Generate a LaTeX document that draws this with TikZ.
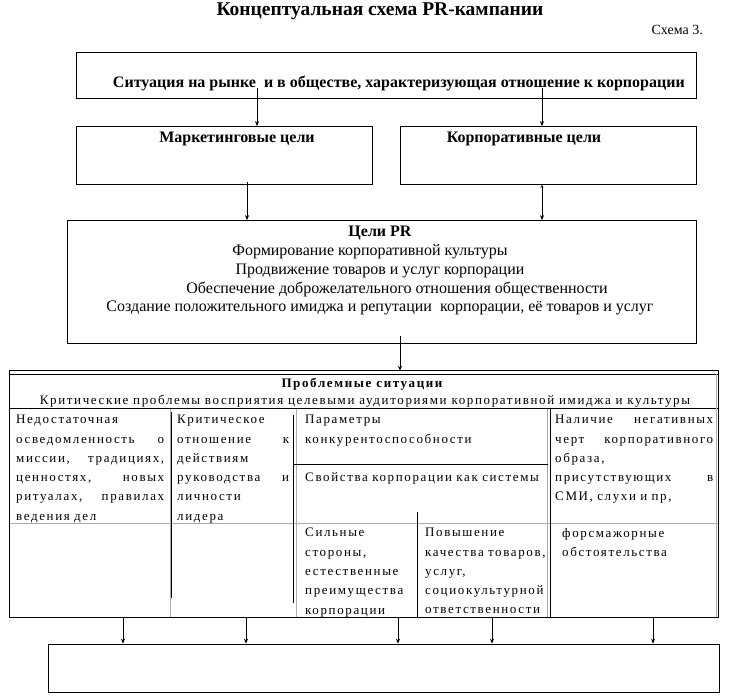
\documentclass[tikz,border=0pt]{standalone}
\usepackage{fontspec}
\setmainfont{Liberation Serif}
\newfontfamily\tabfont[LetterSpace=12.5]{Liberation Serif}
\usetikzlibrary{arrows.meta,positioning,calc}

\tikzset{
  box/.style={draw, line width=0.8pt, inner sep=0pt},
  arr/.style={-{Stealth[length=5pt,width=4pt]}, line width=0.6pt},
  boxtitle/.style={font=\bfseries\fontsize{16}{18}\selectfont, inner sep=0pt},
  goalline/.style={font=\fontsize{16}{18}\selectfont, inner sep=0pt},
  cell/.style={font=\tabfont\fontsize{13}{19.3}\selectfont, inner sep=0pt,
    align=left, anchor=north west},
  gridline/.style={gray!65, line width=0.6pt},
  darkline/.style={black, line width=0.9pt},
}

\begin{document}
\begin{tikzpicture}[x=1pt,y=-1pt]
\useasboundingbox (0,0) rectangle (735,697);
% heading
\node[font=\bfseries\fontsize{19.5}{22}\selectfont, inner sep=0pt] (title) at (380,11) {Концептуальная схема PR-кампании};
\node[font=\fontsize{14}{16}\selectfont, inner sep=0pt, anchor=east] (schema) at (703,30) {Схема 3.};

% situation box
\node[box, minimum width=620, minimum height=46] (sit) at (386,75.5) {};
\node[boxtitle, anchor=east] (sittext) at (685,83) {Ситуация на рынке\ \ и в обществе, характеризующая отношение к корпорации};

% goal boxes
\node[box, minimum width=296, minimum height=58] (mark) at (224,155.5) {};
\node[boxtitle] (marktext) at (237,139) {Маркетинговые цели};
\node[box, minimum width=296, minimum height=58] (corp) at (548,155.5) {};
\node[boxtitle] (corptext) at (524,139) {Корпоративные цели};

% PR goals
\node[box, minimum width=629, minimum height=123] (pr) at (381.5,282) {};
\node[boxtitle] (prhead) at (380,233) {Цели PR};
\node[goalline] (pr1) at (370,252) {Формирование корпоративной культуры};
\node[goalline] (pr2) at (380,271) {Продвижение товаров и услуг корпорации};
\node[goalline] (pr3) at (397,289) {Обеспечение доброжелательного отношения общественности};
\node[goalline] (pr4) at (380,308) {Создание положительного имиджа и репутации\ \ корпорации, её товаров и услуг};

\draw[arr] ($(sit.south -| 257,0)+(0,-11)$) -- (mark.north -| 257,0);
\draw[arr] ($(sit.south -| 542,0)+(0,-11)$) -- (corp.north -| 542,0);
\draw[arr] ($(mark.south -| 247,0)+(0,-3)$) -- (pr.north -| 247,0);
\draw[{Stealth[length=3pt,width=3pt]}-{Stealth[length=5pt,width=4pt]}, line width=0.6pt]
  (corp.south -| 542,0) -- (pr.north -| 542,0);

% problem table
\node[inner sep=0pt, minimum width=709, minimum height=246] (tab) at (364,494) {};
\draw[gridline] (170,408) -- (170,617) (296,408) -- (296,617) (547,408) -- (547,617)
  (10,523) -- (718,523);
\draw[darkline] (171,412) -- (171,598) (293,415) -- (293,603) (550,408) -- (550,617)
  (293,464) -- (548,464) (417,512) -- (417,617) (10,408) -- (718,408);
\draw[darkline] (10,374) -- (718,374);
\draw[darkline] (tab.north west) rectangle (tab.south east);
\draw[gridline] (716,374) -- (716,617);

\node[cell, font=\tabfont\bfseries\fontsize{13}{15}\selectfont, anchor=center] (probhead) at (362,384) {Проблемные ситуации};
\node[cell, anchor=center] (probsub) at (365,401) {Критические проблемы восприятия целевыми аудиториями корпоративной имиджа и культуры};

\node[cell, text width=148] (c1) at (16,415) {Недостаточная\\ осведомленность\hfill о\\ миссии,\hfill традициях,\\ ценностях,\hfill новых\\ ритуалах,\hfill правилах\\ ведения дел};
\node[cell, text width=112] (c2) at (177,415) {Критическое\\ отношение\hfill к\\ действиям\\ руководства\hfill и\\ личности\\ лидера};
\node[cell, text width=238] (c3a) at (305,415) {Параметры\\ конкурентоспособности};
\node[cell, text width=238] (c3b) at (305,472) {Свойства корпорации как системы};
\node[cell, text width=158] (c4) at (555,415) {Наличие\hfill негативных\\ черт\hfill корпоративного\\ образа,\\ присутствующих\hfill в\\ СМИ, слухи и пр,};
\node[cell, text width=110] (c3c) at (305,528) {Сильные\\ стороны,\\ естественные\\ преимущества\\ корпорации};
\node[cell, text width=128] (c3d) at (425,528) {Повышение\\ качества товаров,\\ услуг,\\ социокультурной\\ ответственности};
\node[cell, text width=150] (c4b) at (562,528) {форсмажорные\\ обстоятельства};

% result box
\node[box, minimum width=671, minimum height=48] (res) at (383.5,668) {};
\foreach \ax in {123,246,398,492,653}
  \draw[arr] (tab.south -| \ax,0) -- (res.north -| \ax,0);
\draw[arr] ($(pr.south -| 400,0)+(0,-8)$) -- (tab.north -| 400,0);
\end{tikzpicture}
\end{document}
